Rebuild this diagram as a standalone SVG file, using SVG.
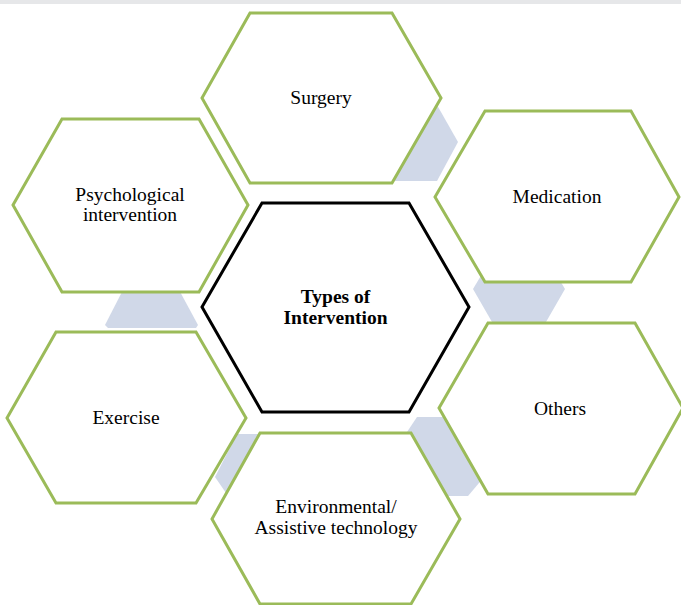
<svg xmlns="http://www.w3.org/2000/svg" width="681" height="605" viewBox="0 0 681 605">
  <style>
    .hex { fill: #ffffff; stroke: #9bbb59; stroke-width: 3; stroke-linejoin: miter; }
    .hub { fill: #ffffff; stroke: #000000; stroke-width: 3; stroke-linejoin: miter; }
    .link { fill: #d0d8e8; stroke: none; }
    .label { font-family: "Liberation Serif", "Times New Roman", serif; font-size: 19.5px; fill: #000000; text-anchor: middle; }
    .title { font-weight: bold; }
  </style>

  <rect x="0" y="0" width="681" height="605" fill="#ffffff"/>
  <rect x="0" y="0" width="681" height="4" fill="#e6e7e9"/>

  <!-- small hexagonal links sitting behind the cells -->
  <g id="connectors">
    <polygon class="link" points="387,105 437,105 458,142 437,181 387,181 366,142"/>
    <polygon class="link" points="494,254 544,254 565,289 546,322 492,322 473,289"/>
    <polygon class="link" points="417,417 450,417 490,470 468,496 448,496 405,435"/>
    <polygon class="link" points="237,434 265,434 250,480 226,493 215,477"/>
    <polygon class="link" points="124,288 178,288 198,325 196,328 108,328 105,325"/>
  </g>

  <g id="surgery">
    <polygon class="hex" points="250,13 392,13 441,98 392,183 250,183 202,98"/>
    <text class="label" x="321" y="104">Surgery</text>
  </g>

  <g id="medication">
    <polygon class="hex" points="485,111 631,111 679,197 631,282 485,282 435,197"/>
    <text class="label" x="557" y="203">Medication</text>
  </g>

  <g id="others">
    <polygon class="hex" points="488,323 635,323 683,408 635,494 488,494 439,408"/>
    <text class="label" x="560" y="415">Others</text>
  </g>

  <g id="environmental">
    <polygon class="hex" points="260,433 411,433 460,519 411,604 260,604 212,519"/>
    <text class="label" x="336" y="513">Environmental/</text>
    <text class="label" x="336" y="534">Assistive technology</text>
  </g>

  <g id="exercise">
    <polygon class="hex" points="56,332 196,332 246,418 196,503 56,503 7,418"/>
    <text class="label" x="126" y="424">Exercise</text>
  </g>

  <g id="psychological">
    <polygon class="hex" points="62,119 199,119 248,205 199,292 62,292 13,205"/>
    <text class="label" x="130" y="201">Psychological</text>
    <text class="label" x="130" y="221">intervention</text>
  </g>

  <g id="types-of-intervention">
    <polygon class="hub" points="262,203 409,203 469,307 409,412 262,412 202,307"/>
    <text class="label title" x="335.5" y="303">Types of</text>
    <text class="label title" x="335.5" y="324">Intervention</text>
  </g>
</svg>
